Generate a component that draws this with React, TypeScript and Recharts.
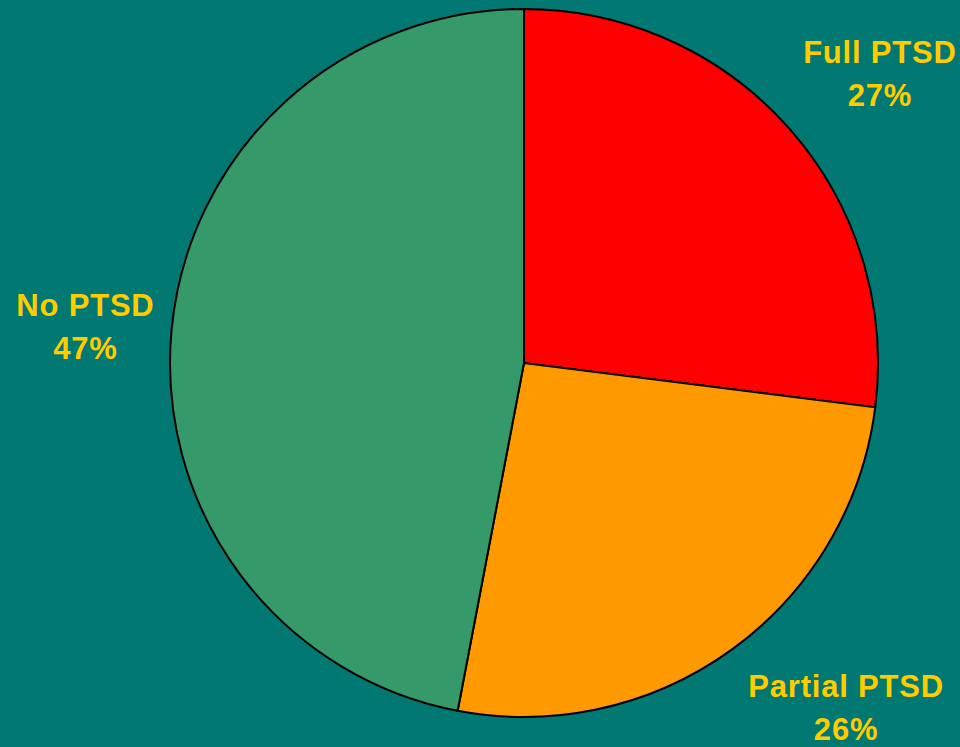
import React from 'react';
import { PieChart, Pie, Cell } from 'recharts';

const categories = ['Full PTSD', 'Partial PTSD', 'No PTSD'];
const shares = [27, 26, 47];
const sliceColors = ['#FF0000', '#FF9900', '#36996A'];

// small nudges so labels sit where the original best-fit placed them
const labelNudge: Record<string, [number, number]> = {
  'Full PTSD': [24, 14],
  'Partial PTSD': [62, -2],
  'No PTSD': [2, 16],
};

const data = categories.map((name, i) => ({ name, value: shares[i] }));

const RADIAN = Math.PI / 180;

const renderLabel = (props: any) => {
  const { cx, cy, midAngle, outerRadius, name, value } = props;
  const r = outerRadius * 1.25;
  const [nx, ny] = labelNudge[name] || [0, 0];
  const x = cx + r * Math.cos(-midAngle * RADIAN) + nx;
  const y = cy + r * Math.sin(-midAngle * RADIAN) + ny;
  return (
    <text
      x={x}
      y={y}
      textAnchor='middle'
      fill='#FFCC00'
      fontFamily='"Liberation Sans", Arial, sans-serif'
      fontWeight='bold'
      fontSize={31}
      letterSpacing={0.8}
    >
      <tspan x={x} y={y - 21.5}>
        {name}
      </tspan>
      <tspan x={x} y={y + 21.5}>
        {value}%
      </tspan>
    </text>
  );
};

const App: React.FC = () => {
  return (
    <div
      style={{
        position: 'fixed',
        top: 0,
        left: 0,
        width: 960,
        height: 747,
        background: '#017872',
        overflow: 'hidden',
      }}
    >
      <PieChart
        width={960}
        height={747}
        margin={{ top: 0, right: 0, bottom: 0, left: 0 }}
      >
        <Pie
          data={data}
          dataKey='value'
          nameKey='name'
          cx={524}
          cy={363}
          outerRadius={354}
          startAngle={90}
          endAngle={-270}
          stroke='#000000'
          strokeWidth={2}
          label={renderLabel}
          labelLine={false}
          isAnimationActive={false}
        >
          {data.map((d, i) => (
            <Cell key={d.name} fill={sliceColors[i]} />
          ))}
        </Pie>
      </PieChart>
    </div>
  );
};

export default App;
